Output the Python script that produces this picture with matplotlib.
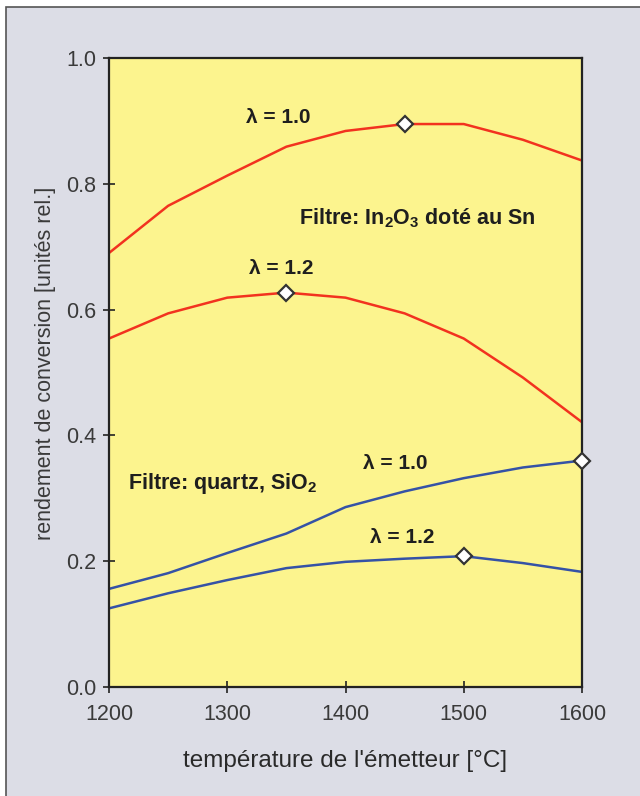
import matplotlib.pyplot as plt
from matplotlib.patches import Rectangle

# temperatures [°C]
temps = [1200, 1250, 1300, 1350, 1400, 1450, 1500, 1550, 1600]

# filtre In2O3 dopé Sn
ito_l10 = [0.690, 0.765, 0.813, 0.859, 0.884, 0.895, 0.895, 0.870, 0.837]
ito_l12 = [0.554, 0.594, 0.619, 0.627, 0.619, 0.594, 0.554, 0.492, 0.421]

# filtre quartz SiO2
sio2_l10 = [0.156, 0.181, 0.213, 0.244, 0.286, 0.311, 0.332, 0.349, 0.360]
sio2_l12 = [0.125, 0.149, 0.170, 0.189, 0.199, 0.204, 0.208, 0.197, 0.183]

# maxima marked with a diamond
max_pts_x = [1450, 1350, 1600, 1500]
max_pts_y = [0.895, 0.627, 0.360, 0.208]

x_ticks = [1200, 1300, 1400, 1500, 1600]
y_ticks = [0.0, 0.2, 0.4, 0.6, 0.8, 1.0]

plt.rcParams['font.family'] = ['Liberation Sans', 'DejaVu Sans']

red = '#f2321f'
blue = '#3552a6'
txt = '#1e1e1e'

fig = plt.figure(figsize=(6.4, 7.96), dpi=100, facecolor='white')
# gray page panel with thin border
fig.patches.append(Rectangle((6 / 640, -0.01), 1.0, 1 - 7 / 796 + 0.01,
                             transform=fig.transFigure, facecolor='#dcdde6',
                             edgecolor='#555555', linewidth=1.2, zorder=-10))

ax = fig.add_axes([109 / 640, 1 - 687 / 796, (582 - 109) / 640, (687 - 58) / 796])
ax.set_facecolor('#fcf48e')

ax.plot(temps, ito_l10, color=red, linewidth=1.8)
ax.plot(temps, ito_l12, color=red, linewidth=1.8)
ax.plot(temps, sio2_l10, color=blue, linewidth=1.8)
ax.plot(temps, sio2_l12, color=blue, linewidth=1.8)
ax.plot(max_pts_x, max_pts_y, linestyle='none', marker='D', markersize=8,
        markerfacecolor='white', markeredgecolor='#333333', markeredgewidth=1.6,
        clip_on=False, zorder=5)

ax.set_xlim(1200, 1600)
ax.set_ylim(0.0, 1.0)
ax.set_xticks(x_ticks)
ax.set_yticks(y_ticks)
ax.set_yticklabels([f'{v:.1f}' for v in y_ticks])
ax.tick_params(direction='inout', length=8, width=1.2, labelsize=15.5,
               labelcolor='#3a3a3a', color='#222222')
ax.tick_params(axis='x', pad=8)
ax.tick_params(axis='y', pad=5)

for s in ax.spines.values():
    s.set_linewidth(1.6)
    s.set_color('#222222')

# annotations
ax.text(1316, 0.906, 'λ = 1.0', fontsize=15, fontweight='bold', color=txt, va='center')
ax.text(1361, 0.746, r'Filtre: In$_\mathregular{2}$O$_\mathregular{3}$ doté au Sn',
        fontsize=15.5, fontweight='bold', color=txt, va='center')
ax.text(1318, 0.665, 'λ = 1.2', fontsize=15, fontweight='bold', color=txt, va='center')
ax.text(1415, 0.356, 'λ = 1.0', fontsize=15, fontweight='bold', color=txt, va='center')
ax.text(1216, 0.324, r'Filtre: quartz, SiO$_\mathregular{2}$', fontsize=15.5,
        fontweight='bold', color=txt, va='center')
ax.text(1421, 0.238, 'λ = 1.2', fontsize=15, fontweight='bold', color=txt, va='center')

ax.set_xlabel("température de l'émetteur [°C]", fontsize=17.5, color='#2a2a2a',
              labelpad=18)
ax.set_ylabel('rendement de conversion [unités rel.]', fontsize=15.5,
              color='#3a3a3a')
ax.yaxis.set_label_coords(-0.112, 0.515)

fig.savefig('out.png', dpi=100, facecolor=fig.get_facecolor())
